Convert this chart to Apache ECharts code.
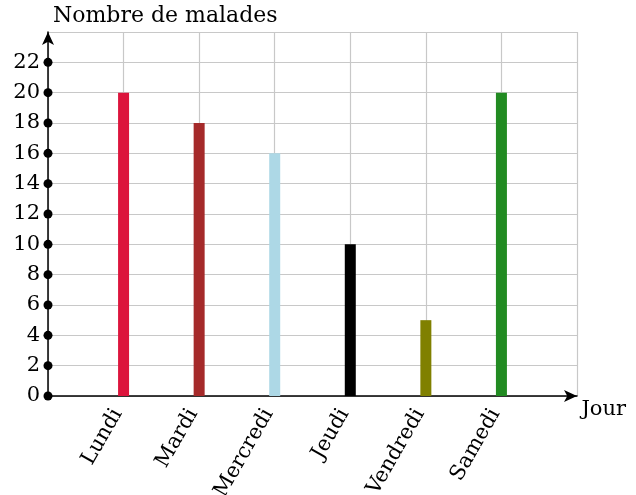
<!DOCTYPE html>
<html><head><meta charset="utf-8">
<script src="https://cdn.jsdelivr.net/npm/echarts@6/dist/echarts.min.js"></script>
<style>html,body{margin:0;padding:0;background:#fff}#c{width:636px;height:495px}</style>
</head><body><div id="c"></div>
<script>
const days = ['Lundi','Mardi','Mercredi','Jeudi','Vendredi','Samedi'];
const patients = [20, 18, 16, 10, 5, 20];
const barColors = ['#DC143C','#A52A2A','#ADD8E6','#000000','#808000','#228B22'];
const yTicks = [0,2,4,6,8,10,12,14,16,18,20,22];
const yTitle = 'Nombre de malades';
const xTitle = 'Jour';

const font = 'DejaVu Serif';
const chart = echarts.init(document.getElementById('c'));
chart.setOption({
  animation: false,
  grid: {left: 48, top: 32, right: 59, bottom: 99, containLabel: false, outerBoundsMode: 'none'},
  xAxis: {
    type: 'value', min: 0, max: 7, interval: 1,
    name: xTitle, nameLocation: 'end', nameGap: 4,
    nameTextStyle: {fontFamily: font, fontSize: 21, color: '#000', align: 'left', verticalAlign: 'top', padding: [3,0,0,0]},
    axisLine: {show: true, lineStyle: {color: '#000', width: 1.5}, symbol: ['none','arrow'], symbolSize: [9,13]},
    axisTick: {show: false},
    splitLine: {show: true, lineStyle: {color: '#c8c8c8', width: 1.2}},
    axisLabel: {rotate: 60, margin: 4, padding: [0,12,0,0], fontFamily: font, fontSize: 21, color: '#000',
      formatter: v => days[v-1] || ''}
  },
  yAxis: {
    type: 'value', min: 0, max: 24, interval: 2,
    name: yTitle, nameLocation: 'end', nameGap: 5,
    nameTextStyle: {fontFamily: font, fontSize: 22, color: '#000', align: 'left', padding: [0,0,0,5]},
    axisLine: {show: true, lineStyle: {color: '#000', width: 1.5}, symbol: ['none','arrow'], symbolSize: [9,13]},
    axisTick: {show: false},
    splitLine: {show: true, lineStyle: {color: '#c8c8c8', width: 1.2}},
    axisLabel: {margin: 8, fontFamily: font, fontSize: 21, color: '#000',
      formatter: v => yTicks.includes(v) ? String(v) : ''}
  },
  series: [
    {
      type: 'bar', barWidth: 11,
      data: patients.map((v,i) => ({value: [i+1, v], itemStyle: {color: barColors[i]}}))
    },
    {
      type: 'scatter', symbol: 'circle', symbolSize: 9, clip: false, z: 5,
      itemStyle: {color: '#000', opacity: 1},
      data: yTicks.map(t => [0, t])
    }
  ]
});
</script></body></html>
